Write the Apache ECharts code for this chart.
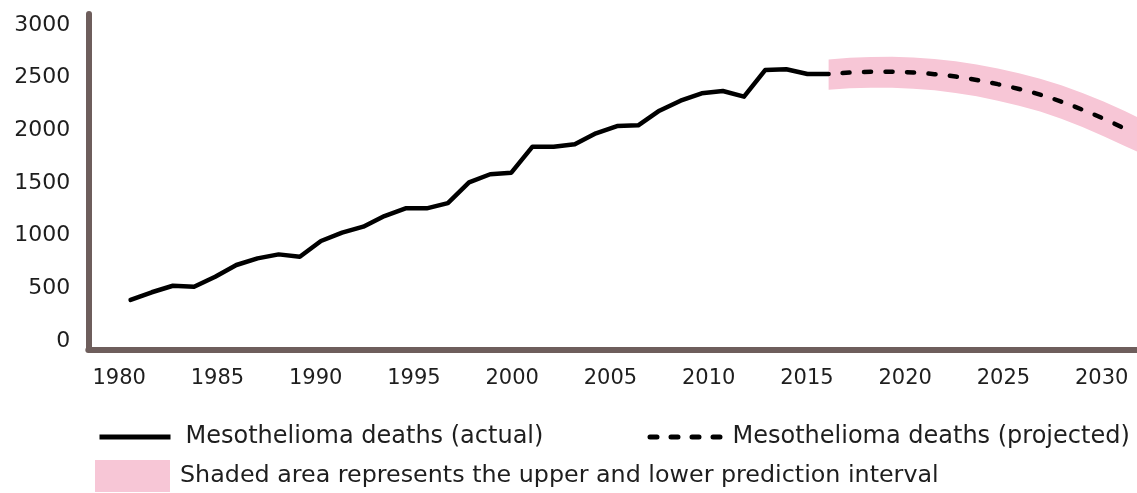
<!DOCTYPE html>
<html><head><meta charset="utf-8">
<script src="https://cdn.jsdelivr.net/npm/echarts@6/dist/echarts.min.js"></script>
<style>html,body{margin:0;padding:0;background:#fff}#c{width:1137px;height:493px}</style>
</head><body><div id="c"></div><script>
// ---- data ----
const actualYears = [1983,1984,1985,1986,1987,1988,1989,1990,1991,1992,1993,1994,1995,1996,1997,1998,1999,2000,2001,2002,2003,2004,2005,2006,2007,2008,2009,2010,2011,2012,2013,2014,2015,2016];
const actualDeaths = [388,461,523,514,609,720,783,821,799,948,1027,1084,1185,1258,1258,1308,1505,1582,1597,1844,1844,1867,1971,2040,2047,2186,2281,2351,2373,2319,2572,2579,2534,2534];
const projYears = [2016,2017,2018,2019,2020,2021,2022,2023,2024,2025,2026,2027,2028,2029,2030];
const projDeaths = [2534,2548,2555,2555,2548,2533,2510,2478,2438,2392,2338,2272,2195,2110,2015];
const bandYears = [2016,2017,2018,2019,2020,2021,2022,2023,2024,2025,2026,2027,2028,2029,2030,2031];
const bandUpper = [2672,2688,2697,2698,2692,2678,2656,2625,2587,2542,2490,2428,2355,2273,2183,2085];
const bandLower = [2385,2398,2404,2403,2395,2379,2355,2322,2281,2234,2178,2110,2030,1942,1850,1760];
const xTickLabels = [1980,1985,1990,1995,2000,2005,2010,2015,2020,2025,2030];
const yTickLabels = [0,500,1000,1500,2000,2500,3000];
const actualName = 'Mesothelioma deaths (actual)';
const projName = 'Mesothelioma deaths (projected)';
const shadedName = 'Shaded area represents the upper and lower prediction interval';

const FONT = 'DejaVu Sans';
const AXIS = '#6E5E5C';
const PINK = '#F7C6D6';
const TXT = '#1e1e1e';

const chart = echarts.init(document.getElementById('c'), null, {renderer: 'canvas'});
chart.setOption({
  animation: false,
  backgroundColor: '#fff',
  grid: {left: 88.3, right: 0, top: 14, bottom: 143.5, containLabel: false, outerBoundsMode: 'none'},
  xAxis: [
    {type: 'value', min: 1978.427, max: 2031.796, position: 'bottom',
     axisLine: {show: true, onZero: false, lineStyle: {color: AXIS, width: 6, cap: 'round'}},
     axisTick: {show: false}, splitLine: {show: false},
     axisLabel: {customValues: xTickLabels, formatter: v => String(v), fontSize: 21, fontFamily: FONT, color: TXT, margin: 19}},
    {type: 'value', min: 1981, max: 2030.58, show: false}
  ],
  yAxis: {type: 'value', min: -82.6, max: 3104.4,
     axisLine: {show: true, onZero: false, lineStyle: {color: AXIS, width: 6, cap: 'round'}},
     axisTick: {show: false}, splitLine: {show: false},
     axisLabel: {customValues: yTickLabels, formatter: v => String(v), fontSize: 22, fontFamily: FONT, color: TXT, margin: 18}},
  legend: [
    {left: 97, top: 425, padding: 0, itemWidth: 71, itemHeight: 24, selectedMode: false,
     data: [actualName],
     itemStyle: {opacity: 0},
     lineStyle: {width: 5, color: '#000', cap: 'butt'},
     textStyle: {fontSize: 24, fontFamily: FONT, color: TXT, padding: [0, 0, 0, 10]}},
    {left: 645, top: 425, padding: 0, itemWidth: 73, itemHeight: 24, selectedMode: false,
     data: [projName],
     itemStyle: {opacity: 0},
     lineStyle: {width: 5, color: '#000', type: [7, 14], dashOffset: -2.5, cap: 'round'},
     textStyle: {fontSize: 24, fontFamily: FONT, color: TXT, padding: [0, 0, 0, 7]}},
    {left: 95, top: 460, padding: 0, itemWidth: 75, itemHeight: 32, selectedMode: false,
     data: [{name: shadedName, icon: 'rect', itemStyle: {color: PINK, borderWidth: 0, opacity: 1}}],
     textStyle: {fontSize: 23.8, fontFamily: FONT, color: TXT, padding: [0, 0, 0, 5]}}
  ],
  series: [
    {name: shadedName, type: 'custom', xAxisIndex: 1, yAxisIndex: 0, clip: true, silent: true, z: 1,
     itemStyle: {color: PINK},
     data: bandYears.map((y, i) => [y, bandLower[i], bandUpper[i]]),
     encode: {x: 0, y: [1, 2]},
     renderItem: function (params, api) {
       if (params.dataIndex !== 0) return null;
       const up = bandYears.map((y, i) => api.coord([y, bandUpper[i]]));
       const lo = bandYears.map((y, i) => api.coord([y, bandLower[i]])).reverse();
       return {type: 'polygon', shape: {points: up.concat(lo)}, style: {fill: PINK, stroke: null}};
     }},
    {name: actualName, type: 'line', xAxisIndex: 1, symbol: 'none',
     data: actualYears.map((y, i) => [y, actualDeaths[i]]),
     itemStyle: {color: '#000'},
     lineStyle: {color: '#000', width: 4.5, cap: 'round', join: 'round'}, z: 3},
    {name: projName, type: 'line', xAxisIndex: 1, symbol: 'none', smooth: true,
     data: projYears.map((y, i) => [y, projDeaths[i]]),
     itemStyle: {color: '#000'},
     lineStyle: {color: '#000', width: 4.5, type: [7, 14.5], dashOffset: 7.5, cap: 'round'}, z: 3}
  ]
});
</script></body></html>
